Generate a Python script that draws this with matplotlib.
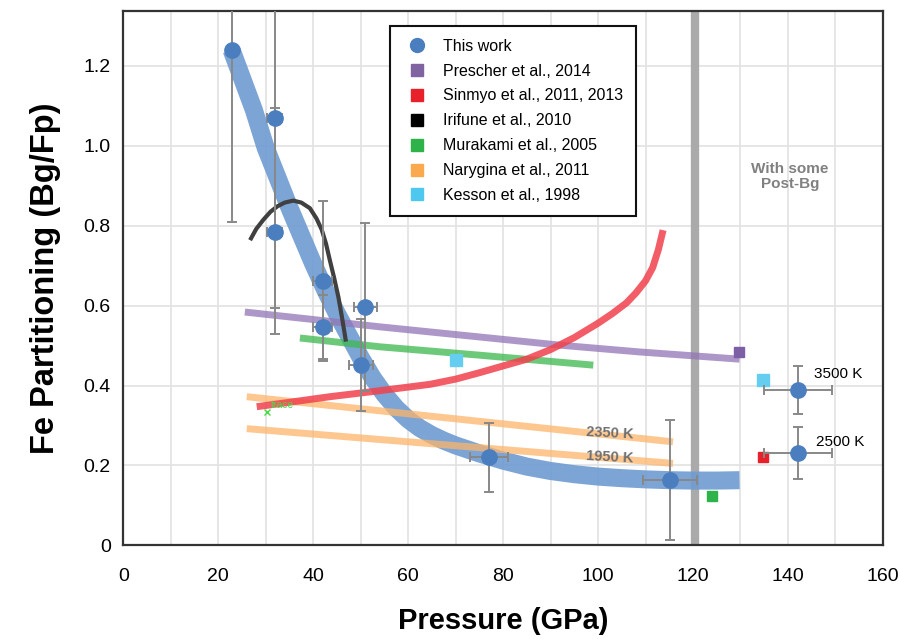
import matplotlib
matplotlib.use("Agg")
import matplotlib.pyplot as plt
from matplotlib.lines import Line2D

plt.rcParams['font.family'] = ['Liberation Sans', 'DejaVu Sans']

# This work (points with error bars)
work_p = [22.9, 31.9, 31.9, 42.0, 42.0, 51.0, 50.0, 77.0, 115.2, 142.1, 142.1]
work_fe = [1.24, 1.07, 0.785, 0.662, 0.547, 0.597, 0.451, 0.22, 0.163, 0.388, 0.23]
work_err_lo = [0.43, 0.54, 0.19, 0.20, 0.08, 0.21, 0.115, 0.087, 0.15, 0.06, 0.065]
work_err_hi = [0.43, 0.54, 0.31, 0.20, 0.08, 0.21, 0.115, 0.087, 0.15, 0.06, 0.065]
work_perr = [0.0, 1.6, 1.6, 2.0, 2.0, 2.5, 2.5, 4.0, 5.7, 7.1, 7.1]

# trend band through this work
trend_p = [22.8, 25, 27.5, 30, 32.5, 35, 37.5, 40, 42.5, 45, 47.5, 50, 52.5, 55, 57.5,
           60, 62.5, 65, 67.5, 70, 75, 80, 85, 90, 95, 100, 105, 110, 115, 120, 125, 129.8]
trend_fe = [1.24, 1.17, 1.09, 0.995, 0.92, 0.845, 0.775, 0.705, 0.64, 0.58, 0.525, 0.47,
            0.42, 0.378, 0.343, 0.315, 0.293, 0.276, 0.262, 0.25, 0.23, 0.212, 0.197,
            0.186, 0.178, 0.172, 0.168, 0.165, 0.163, 0.162, 0.162, 0.163]

# Irifune et al., 2010
irifune_p = [26.7, 28, 29.5, 31, 32.5, 34, 35.8, 37.5, 39.3, 40.7, 41.8, 42.7, 43.5,
             44.4, 45.3, 46.1, 46.9]
irifune_fe = [0.764, 0.792, 0.815, 0.835, 0.849, 0.858, 0.863, 0.858, 0.844, 0.818,
              0.79, 0.755, 0.714, 0.67, 0.622, 0.568, 0.51]

# Prescher et al., 2014
prescher_p = [25.6, 54, 92, 108.8, 129.8]
prescher_fe = [0.584, 0.547, 0.501, 0.484, 0.466]

# Murakami et al., 2005
murakami_p = [37.2, 54, 75, 99]
murakami_fe = [0.519, 0.497, 0.476, 0.451]

# Sinmyo et al., 2011, 2013
sinmyo_p = [28.1, 35, 43.5, 54, 64.6, 70, 75, 80, 85, 90, 95, 100, 103, 106, 108, 110,
            111.5, 112.7, 113.7]
sinmyo_fe = [0.347, 0.358, 0.372, 0.387, 0.403, 0.416, 0.432, 0.449, 0.466, 0.49, 0.52,
             0.556, 0.58, 0.607, 0.632, 0.662, 0.695, 0.74, 0.789]

# Narygina et al., 2011
nary_p = [26, 115.8]
nary_2350 = [0.372, 0.259]
nary_1950 = [0.292, 0.205]

# single markers
prescher_pt = (129.7, 0.483)
sinmyo_pt = (134.7, 0.221)
murakami_pt = (123.9, 0.124)
kesson_p = [70.0, 134.7]
kesson_fe = [0.465, 0.414]

fig = plt.figure(figsize=(9, 6.4), dpi=100)
ax = fig.add_axes([0.137, 0.148, 0.844, 0.835])

ax.set_xlim(0, 160)
ax.set_ylim(0, 1.338)
ax.set_xticks(range(0, 161, 20))
ax.set_xticks(range(0, 161, 10), minor=True)
ax.set_yticks([0, 0.2, 0.4, 0.6, 0.8, 1.0, 1.2])
ax.set_yticklabels(['0', '0.2', '0.4', '0.6', '0.8', '1.0', '1.2'])
ax.grid(True, which='both', color='#e2e2e2', linewidth=1.2, zorder=0)
ax.set_axisbelow(True)
ax.tick_params(which='both', length=0, labelsize=14)
ax.tick_params(axis='y', pad=9)
ax.tick_params(axis='x', pad=16)
for s in ax.spines.values():
    s.set_color('#333333')
    s.set_linewidth(1.6)

ax.axvline(120.5, color='#aaaaaa', linewidth=6, zorder=1)

ax.plot(trend_p, trend_fe, color='#6e9bd2', alpha=0.9, linewidth=13,
        solid_capstyle='butt', zorder=2)
ax.plot(nary_p, nary_2350, color='#fdb56a', alpha=0.75, linewidth=5,
        solid_capstyle='butt', zorder=3)
ax.plot(nary_p, nary_1950, color='#fdb56a', alpha=0.75, linewidth=5,
        solid_capstyle='butt', zorder=3)
ax.plot(prescher_p, prescher_fe, color='#9275b6', alpha=0.75, linewidth=5,
        solid_capstyle='butt', zorder=3)
ax.plot(murakami_p, murakami_fe, color='#3cb84e', alpha=0.75, linewidth=5,
        solid_capstyle='butt', zorder=3)
ax.plot(sinmyo_p, sinmyo_fe, color='#f0414c', alpha=0.85, linewidth=5,
        solid_capstyle='butt', zorder=3)
ax.plot(irifune_p, irifune_fe, color='#404040', linewidth=3, solid_capstyle='butt', zorder=4)

ax.plot(*prescher_pt, 's', color='#7d5fa6', markersize=7, zorder=5)
ax.plot(*sinmyo_pt, 's', color='#e8202a', markersize=7, zorder=5)
ax.plot(*murakami_pt, 's', color='#2db34a', markersize=7, zorder=5)
ax.plot(kesson_p, kesson_fe, 's', color='#64cdf0', markersize=8, linestyle='none', zorder=5)

ax.errorbar(work_p, work_fe, yerr=[work_err_lo, work_err_hi], xerr=work_perr,
            fmt='o', color='#4a7ebf', markersize=11, ecolor='#888888',
            elinewidth=1.4, capsize=3.5, capthick=1.4, zorder=6)

ax.plot(30.2, 0.334, 'x', color='#44dd44', markersize=4, zorder=6)
ax.text(31.0, 0.351, 'trace', color='#44dd44', fontsize=7.5, va='center', zorder=6)
ax.text(102.5, 0.28, '2350 K', color='#707070', fontsize=10.5, fontweight='bold',
        ha='center', va='center', rotation=-3, zorder=6)
ax.text(102.5, 0.221, '1950 K', color='#707070', fontsize=10.5, fontweight='bold',
        ha='center', va='center', rotation=-3, zorder=6)
ax.text(140.4, 0.923, 'With some\nPost-Bg', color='#808080', fontsize=11,
        fontweight='bold', ha='center', va='center', linespacing=1.1)
ax.text(150.5, 0.43, '3500 K', fontsize=11, ha='center', va='center')
ax.text(150.9, 0.259, '2500 K', fontsize=11, ha='center', va='center')

ax.set_xlabel('Pressure (GPa)', fontsize=21, fontweight='bold', labelpad=16)
ax.set_ylabel('Fe Partitioning (Bg/Fp)', fontsize=23.5, fontweight='bold', labelpad=16)

handles = [
    Line2D([], [], marker='o', color='#4a7ebf', linestyle='none', markersize=10),
    Line2D([], [], marker='s', color='#8064a2', linestyle='none', markersize=8),
    Line2D([], [], marker='s', color='#e8202a', linestyle='none', markersize=8),
    Line2D([], [], marker='s', color='#000000', linestyle='none', markersize=8),
    Line2D([], [], marker='s', color='#2db34a', linestyle='none', markersize=8),
    Line2D([], [], marker='s', color='#fba94f', linestyle='none', markersize=8),
    Line2D([], [], marker='s', color='#4fc8f0', linestyle='none', markersize=8),
]
labels = ['This work', 'Prescher et al., 2014', 'Sinmyo et al., 2011, 2013',
          'Irifune et al., 2010', 'Murakami et al., 2005', 'Narygina et al., 2011',
          'Kesson et al., 1998']
leg = ax.legend(handles, labels, loc='upper left', bbox_to_anchor=(0.351, 0.972),
                fontsize=11.5, frameon=True, fancybox=False, borderpad=0.8,
                labelspacing=0.62, handletextpad=0.7, handlelength=1.8,
                borderaxespad=0)
leg.get_frame().set_edgecolor('#111111')
leg.get_frame().set_linewidth(1.5)
leg.get_frame().set_alpha(1)

fig.savefig('out.png', dpi=100)
